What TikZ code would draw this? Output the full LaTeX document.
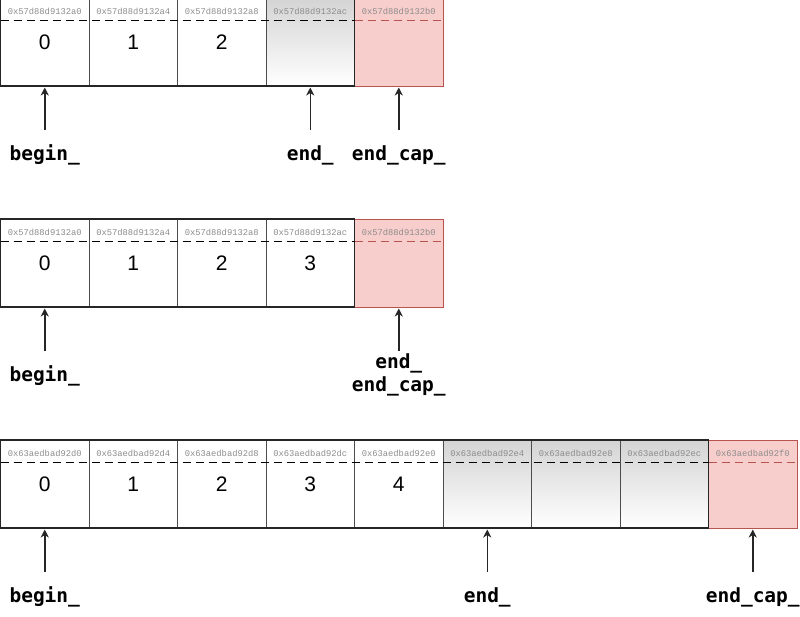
\documentclass[tikz,border=0pt]{standalone}
\usepackage{fontspec}
\newfontfamily\numfont{Liberation Sans}
\newfontfamily\addrfont{Liberation Mono}
\newfontfamily\ptrfont{DejaVu Sans Mono}
\usetikzlibrary{positioning, arrows.meta}
\definecolor{capfill}{HTML}{F8CECC}
\definecolor{capline}{HTML}{B85450}

\begin{document}
\begin{tikzpicture}[
    cell/.style={draw=black!70, line width=.9pt, minimum width=88.5pt, minimum height=88pt,
        inner sep=0pt, outer sep=0pt, font=\numfont\fontsize{21}{24}\selectfont},
    sparecell/.style={cell, top color=black!17, bottom color=white},
    capcell/.style={cell, draw=capline, fill=capfill},
    addr/.style={font=\addrfont\fontsize{8.8}{10}\selectfont, text=black!45, inner sep=0pt},
    hdr/.style={dash pattern=on 8pt off 5pt, line width=.8pt},
    rowedge/.style={draw=black!85, line width=1.2pt},
    ptr/.style={-{Stealth[length=8pt, width=8pt, inset=2.5pt]}, line width=1.5pt, black!85,
        shorten >=1.5pt},
    lbl/.style={font=\ptrfont\bfseries\fontsize{19.5}{22}\selectfont, inner sep=0pt,
        text height=15pt, text depth=5pt},
]
    \useasboundingbox (0,0) rectangle (800pt,-616pt);

    % size 3, capacity 4
    \node[cell, anchor=north west] (a0) at (0.5pt,2pt) {0};
    \node[cell, right=0pt of a0] (a1) {1};
    \node[cell, right=0pt of a1] (a2) {2};
    \node[sparecell, right=0pt of a2] (a3) {};
    \node[capcell, right=0pt of a3] (a4) {};
    \draw[rowedge] (a0.north west) rectangle (a3.south east);

    \node[addr] (a0h) at ([yshift=-13pt]a0.north) {0x57d88d9132a0};
    \node[addr] (a1h) at ([yshift=-13pt]a1.north) {0x57d88d9132a4};
    \node[addr] (a2h) at ([yshift=-13pt]a2.north) {0x57d88d9132a8};
    \node[addr] (a3h) at ([yshift=-13pt]a3.north) {0x57d88d9132ac};
    \node[addr] (a4h) at ([yshift=-13pt]a4.north) {0x57d88d9132b0};
    \draw[hdr] ([yshift=-22pt]a0.north west) -- ([yshift=-22pt]a3.north east);
    \draw[hdr, capline] ([yshift=-22pt]a4.north west) -- ([yshift=-22pt]a4.north east);

    \coordinate[below=44pt of a0.south] (pa0);
    \coordinate[below=44pt of a3.south] (pa3);
    \coordinate[below=44pt of a4.south] (pa4);
    \draw[ptr] (pa0) -- (a0);
    \draw[ptr] (pa3) -- (a3);
    \draw[ptr] (pa4) -- (a4);
    \node[lbl, below=15pt of pa0] (abegin) {begin\_};
    \node[lbl, below=15pt of pa3] (aend) {end\_};
    \node[lbl, below=15pt of pa4] (acap) {end\_cap\_};

    % size 4, capacity 4
    \node[cell, anchor=north west] (b0) at (0.5pt,-219pt) {0};
    \node[cell, right=0pt of b0] (b1) {1};
    \node[cell, right=0pt of b1] (b2) {2};
    \node[cell, right=0pt of b2] (b3) {3};
    \node[capcell, right=0pt of b3] (b4) {};
    \draw[rowedge] (b0.north west) rectangle (b3.south east);

    \node[addr] (b0h) at ([yshift=-13pt]b0.north) {0x57d88d9132a0};
    \node[addr] (b1h) at ([yshift=-13pt]b1.north) {0x57d88d9132a4};
    \node[addr] (b2h) at ([yshift=-13pt]b2.north) {0x57d88d9132a8};
    \node[addr] (b3h) at ([yshift=-13pt]b3.north) {0x57d88d9132ac};
    \node[addr] (b4h) at ([yshift=-13pt]b4.north) {0x57d88d9132b0};
    \draw[hdr] ([yshift=-22pt]b0.north west) -- ([yshift=-22pt]b3.north east);
    \draw[hdr, capline] ([yshift=-22pt]b4.north west) -- ([yshift=-22pt]b4.north east);

    \coordinate[below=44pt of b0.south] (pb0);
    \coordinate[below=44pt of b4.south] (pb4);
    \draw[ptr] (pb0) -- (b0);
    \draw[ptr] (pb4) -- (b4);
    \node[lbl, below=15pt of pb0] (bbegin) {begin\_};
    \node[lbl, below=2pt of pb4] (bend) {end\_};
    \node[lbl, below=3pt of bend] (bcap) {end\_cap\_};

    % size 5, capacity 8
    \node[cell, anchor=north west] (c0) at (0.5pt,-440pt) {0};
    \node[cell, right=0pt of c0] (c1) {1};
    \node[cell, right=0pt of c1] (c2) {2};
    \node[cell, right=0pt of c2] (c3) {3};
    \node[cell, right=0pt of c3] (c4) {4};
    \node[sparecell, right=0pt of c4] (c5) {};
    \node[sparecell, right=0pt of c5] (c6) {};
    \node[sparecell, right=0pt of c6] (c7) {};
    \node[capcell, right=0pt of c7] (c8) {};
    \draw[rowedge] (c0.north west) rectangle (c7.south east);

    \node[addr] (c0h) at ([yshift=-13pt]c0.north) {0x63aedbad92d0};
    \node[addr] (c1h) at ([yshift=-13pt]c1.north) {0x63aedbad92d4};
    \node[addr] (c2h) at ([yshift=-13pt]c2.north) {0x63aedbad92d8};
    \node[addr] (c3h) at ([yshift=-13pt]c3.north) {0x63aedbad92dc};
    \node[addr] (c4h) at ([yshift=-13pt]c4.north) {0x63aedbad92e0};
    \node[addr] (c5h) at ([yshift=-13pt]c5.north) {0x63aedbad92e4};
    \node[addr] (c6h) at ([yshift=-13pt]c6.north) {0x63aedbad92e8};
    \node[addr] (c7h) at ([yshift=-13pt]c7.north) {0x63aedbad92ec};
    \node[addr] (c8h) at ([yshift=-13pt]c8.north) {0x63aedbad92f0};
    \draw[hdr] ([yshift=-22pt]c0.north west) -- ([yshift=-22pt]c7.north east);
    \draw[hdr, capline] ([yshift=-22pt]c8.north west) -- ([yshift=-22pt]c8.north east);

    \coordinate[below=44pt of c0.south] (pc0);
    \coordinate[below=44pt of c5.south] (pc5);
    \coordinate[below=44pt of c8.south] (pc8);
    \draw[ptr] (pc0) -- (c0);
    \draw[ptr] (pc5) -- (c5);
    \draw[ptr] (pc8) -- (c8);
    \node[lbl, below=15pt of pc0] (cbegin) {begin\_};
    \node[lbl, below=15pt of pc5] (cend) {end\_};
    \node[lbl, below=15pt of pc8] (ccap) {end\_cap\_};
\end{tikzpicture}
\end{document}
